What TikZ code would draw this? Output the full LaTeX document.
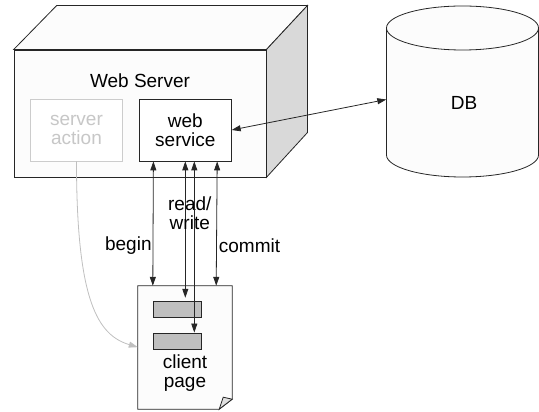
\documentclass[tikz,border=0pt]{standalone}
\usepackage{fontspec}
\setmainfont{Liberation Sans}
\usetikzlibrary{positioning,arrows.meta}

\begin{document}
\begin{tikzpicture}[x=1pt,y=1pt,
txt/.style={font=\fontsize{19}{19.5}\selectfont, align=center},
outline/.style={draw=black!85, line width=0.8pt},
box/.style={outline, fill=white, minimum width=92pt, minimum height=62pt, inner sep=0pt, txt},
ghost/.style={box, draw=black!20, text=black!22},
bar/.style={outline, fill=black!25, minimum width=48pt, minimum height=16pt, inner sep=0pt},
link/.style={outline, {Triangle[length=9pt,width=6pt]}-{Triangle[length=9pt,width=6pt]}}
]
\useasboundingbox (0,0) rectangle (539,412);
%Server
\node[outline, fill=black!1, minimum width=252pt, minimum height=127pt, inner sep=0pt] (server) at (140,298.5) {};
\draw[outline, fill=black!1] (server.north west) -- ++(43,44) -- ([shift={(41,44)}]server.north east) -- (server.north east) -- cycle;
\draw[outline, fill=black!15] (server.north east) -- ++(41,44) -- ++(0,-127) -- (server.south east) -- cycle;
\node[txt]       (title)   at (140,331)                   {Web Server};
\node[ghost]     (action)  at (76.5,282)                  {server\\action};
\node[box]       (service) [right=16pt of action]         {web\\service};
%DB
\draw[outline, fill=black!1] (386.5,384) -- (386.5,257) arc[start angle=180, end angle=360, x radius=76, y radius=22]
  -- (538.5,384) arc[start angle=0, end angle=180, x radius=76, y radius=22] -- cycle;
\draw[outline] (386.5,384) arc[start angle=180, end angle=360, x radius=76, y radius=22];
\node[minimum width=152pt, minimum height=171pt] (db) at (462.5,320.5) {};
\node[txt]       (dbname)  at (464,309)                   {DB};
%Page
\node[minimum width=94pt, minimum height=123pt, inner sep=0pt] (page) at (185,64.5) {};
\draw[outline, fill=black!1] (page.north west) -- (page.north east) -- ([yshift=10pt]page.south east)
  -- ([xshift=-13pt]page.south east) -- (page.south west) -- cycle;
\draw[outline, fill=black!12] ([xshift=-13pt]page.south east) -- ([yshift=10pt]page.south east)
  -- ([shift={(-9pt,12pt)}]page.south east) -- cycle;
\node[bar]       (bar1)    [below right=15pt and 15pt of page.north west] {};
\node[bar]       (bar2)    [below=15pt of bar1]           {};
\node[txt]       (pagetext) at (185,39)                   {client\\page};
%Lines
\draw[link] (service.east) -- ([yshift=-8pt]db.west);
\draw[link] ([xshift=14.5pt]service.south west) -- ([xshift=15pt]page.north west)
  node[pos=0.68, left, txt, inner sep=1pt] {begin};
\draw[link] ([xshift=-14.5pt]service.south east) -- ([xshift=-16pt]page.north east)
  node[pos=0.68, right, txt, inner sep=2pt] {commit};
\draw[link] (service.south) -- ([yshift=3pt]service.south |- bar1.north)
  node[pos=0.38, xshift=4.5pt, txt] {read/\\write};
\draw[link] ([xshift=9pt]service.south) -- ([xshift=9pt]service.south |- bar2.north);
\draw[-{Triangle[length=9pt,width=6pt]}, draw=black!25, line width=0.8pt]
  (action.south) .. controls +(0,-140) and +(-40,12) .. ([yshift=62pt]page.south west);
\end{tikzpicture}
\end{document}
